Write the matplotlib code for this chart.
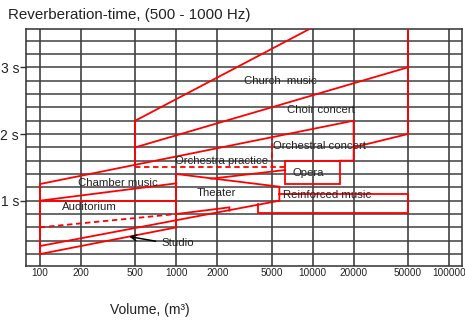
import matplotlib
matplotlib.use("Agg")
import matplotlib.pyplot as plt
import numpy as np

plt.rcParams['font.family'] = ['Liberation Sans', 'DejaVu Sans']

# ---- data (volume m3, reverberation time s) ----
x_ticks = [100, 200, 500, 1000, 2000, 5000, 10000, 20000, 50000, 100000]
x_tick_labels = ["100", "200", "500", "1000", "2000", "5000", "10000", "20000", "50000", "100000"]
y_ticks = [1, 2, 3]
y_tick_labels = ["1 s", "2 s", "3 s"]

church_top_v = [500, 10000];          church_top_s = [2.2, 3.6]
church_right_v = [50000, 50000];      church_right_s = [3.6, 2.0]
church_left_v = [500, 500];           church_left_s = [1.53, 2.2]
church_bottom_v = [20000, 50000];     church_bottom_s = [1.8, 2.0]
choir_v = [500, 50000];               choir_s = [1.8, 3.0]
orch_concert_v = [100, 20000, 20000, 16000]
orch_concert_s = [1.25, 2.2, 1.6, 1.6]
opera_v = [6300, 16000, 16000, 6300, 6300]
opera_s = [1.6, 1.6, 1.25, 1.25, 1.6]
opera_wedge_v = [1800, 6300];         opera_wedge_s = [1.33, 1.46]
practice_v = [500, 6300];             practice_s = [1.5, 1.5]
practice_side_v = [5000, 5000];       practice_side_s = [1.5, 1.95]
chamber_low_v = [100, 1000];          chamber_low_s = [1.0, 1.26]
left_edge_v = [100, 100];             left_edge_s = [0.2, 1.25]
audit_top_v = [100, 1000];            audit_top_s = [1.0, 1.0]
audit_bottom_v = [100, 1000];         audit_bottom_s = [0.6, 0.8]
audit_ext_v = [1000, 2450, 2450];     audit_ext_s = [0.8, 0.9, 0.85]
edge_1000_v = [1000, 1000];           edge_1000_s = [0.6, 1.4]
theater_v = [1000, 5700, 5700];       theater_s = [1.4, 1.21, 1.0]
long_low_v = [100, 5700];             long_low_s = [0.32, 1.0]
reinforced_v = [5700, 50000, 50000, 4000, 4000]
reinforced_s = [1.1, 1.1, 0.81, 0.81, 0.95]
studio_low_v = [100, 1000];           studio_low_s = [0.2, 0.6]

solid_lines = [
    (church_top_v, church_top_s), (church_right_v, church_right_s),
    (church_left_v, church_left_s), (church_bottom_v, church_bottom_s),
    (choir_v, choir_s), (orch_concert_v, orch_concert_s), (opera_v, opera_s),
    (opera_wedge_v, opera_wedge_s),
    (chamber_low_v, chamber_low_s), (left_edge_v, left_edge_s),
    (audit_top_v, audit_top_s), (audit_ext_v, audit_ext_s),
    (edge_1000_v, edge_1000_s), (theater_v, theater_s),
    (long_low_v, long_low_s), (reinforced_v, reinforced_s),
    (studio_low_v, studio_low_s),
]
dashed_lines = [
    (practice_v, practice_s), (practice_side_v, practice_side_s),
    (audit_bottom_v, audit_bottom_s),
]

labels = [
    ("Church  music", 5770, 2.79),
    ("Choir concert", 11500, 2.36),
    ("Orchestral concert", 11300, 1.82),
    ("Orchestra practice", 2130, 1.59),
    ("Opera", 9250, 1.42),
    ("Chamber music", 373, 1.26),
    ("Theater", 1955, 1.11),
    ("Reinforced music", 12850, 1.09),
    ("Auditorium", 229, 0.91),
    ("Studio", 1028, 0.36),
]
arrow_head = (430, 0.47)
arrow_tail = (738, 0.385)

fig = plt.figure(figsize=(4.65, 3.2), dpi=100)
ax = fig.add_axes([26/465, 1-265.7/320, (462-26)/465, (265.7-29)/320])
ax.set_xscale('log')
ax.set_xlim(78.9, 124700)
ax.set_ylim(0.025, 3.575)

# grid
for v in x_ticks:
    ax.axvline(v, color='#303030', lw=1.1, zorder=1)
for s in np.arange(0.2, 3.6, 0.2):
    ax.axhline(s, color='#404040', lw=1.1, zorder=1)

for v, s in solid_lines:
    ax.plot(v, s, color='#ff0000', lw=1.3, zorder=3, solid_joinstyle='miter')
for v, s in dashed_lines:
    ax.plot(v, s, color='#ff0000', lw=1.3, zorder=3, ls=(0, (3, 2)))

for t, v, s in labels:
    ax.text(v, s, t, fontsize=8.2, color='#222222', ha='center', va='center', zorder=4)

ax.annotate("", xy=arrow_head, xytext=arrow_tail,
            arrowprops=dict(arrowstyle='->', color='black', lw=1.1), zorder=4)

ax.set_xticks(x_ticks)
ax.set_xticklabels(x_tick_labels, fontsize=7.2, color='#222222')
ax.xaxis.set_minor_locator(matplotlib.ticker.NullLocator())
ax.tick_params(axis='x', length=0, pad=2)
ax.set_yticks(y_ticks)
ax.set_yticklabels(y_tick_labels, fontsize=10, color='#222222')
ax.tick_params(axis='y', length=4, width=1, color='#303030', pad=1)
for sp in ax.spines.values():
    sp.set_color('#303030')
    sp.set_linewidth(1.1)

fig.text(8/465, 1-15/320, "Reverberation-time, (500 - 1000 Hz)", fontsize=10.9,
         color='#222222', ha='left', va='center')
fig.text(110/465, 1-310/320, "Volume, (m³)", fontsize=10, color='#222222',
         ha='left', va='center')

fig.savefig("out.png", dpi=100)
